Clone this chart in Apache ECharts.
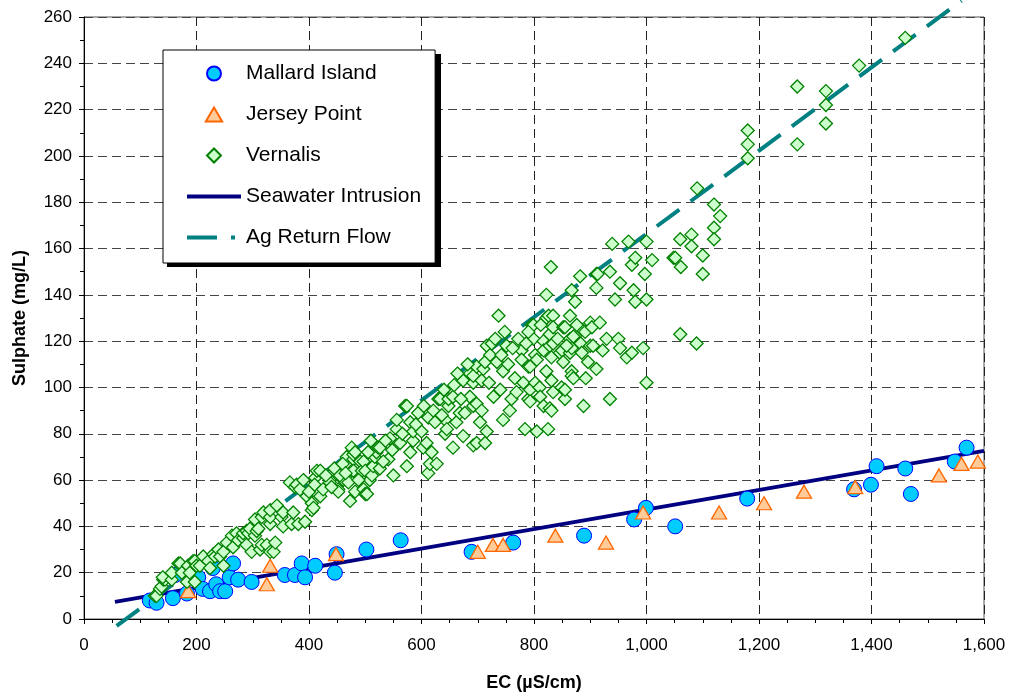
<!DOCTYPE html>
<html>
<head>
<meta charset="utf-8">
<script src="https://cdn.jsdelivr.net/npm/echarts@6/dist/echarts.min.js"></script>
<style>
html,body{margin:0;padding:0;background:#fff;}
#chart{width:1011px;height:696px;}
</style>
</head>
<body>
<div id="chart"></div>
<script>
// ---- Data (EC µS/cm, Sulphate mg/L) ----
const mallardIsland = [
  [117,8],[129,7],[158,9],[162,19],[183,11],[203,18],[211,13],[224,12],[229,22],[235,15],
  [242,12],[251,12],[259,18],[265,24],[274,17],[298,16],[357,19],[375,19],[387,24],[393,18],
  [411,23],[446,20],[449,28],[502,30],[563,34],[689,29],[763,33],[889,36],[978,43],[999,48],
  [1051,40],[1179,52],[1369,56],[1399,58],[1409,66],[1460,65],[1470,54],[1548,68],[1569,74]
];
const jerseyPoint = [
  [185,12],[325,15],[331,23],[448,28],[700,29],[727,32],[745,32],[838,36],[928,33],[994,46],
  [1129,46],[1209,50],[1280,55],[1371,57],[1520,62],[1560,67],[1589,68]
];
const vernalis = [
  [126,10],[129,10],[135,13],[138,14],[141,17],[144,17],[140,18],[156,17],[156,20],[168,24],
  [171,24],[174,20],[183,16],[185,23],[188,20],[194,25],[197,25],[197,16],[200,23],[206,23],
  [212,27],[221,25],[224,22],[230,28],[233,27],[239,30],[242,27],[248,23],[248,29],[254,33],
  [263,36],[265,31],[271,37],[274,34],[283,35],[283,37],[289,32],[289,38],[292,37],[295,39],
  [298,29],[304,36],[304,43],[307,38],[310,39],[313,30],[316,44],[316,32],[319,46],[325,32],
  [331,41],[331,29],[331,44],[331,47],[337,29],[340,33],[343,49],[351,44],[354,46],[354,40],
  [366,59],[369,41],[372,46],[375,57],[378,58],[381,41],[384,56],[393,42],[396,53],[405,50],
  [405,47],[408,48],[411,61],[414,64],[420,53],[420,64],[437,60],[437,59],[452,56],[452,55],
  [461,60],[467,70],[470,59],[473,51],[476,64],[476,74],[479,69],[479,71],[479,64],[482,72],
  [482,55],[491,68],[494,64],[497,56],[497,68],[500,54],[500,64],[503,54],[508,60],[512,62],
  [514,66],[517,70],[520,72],[523,74],[526,74],[526,65],[541,69],[544,78],[550,62],[556,82],
  [556,86],[562,76],[571,92],[574,92],[574,66],[580,72],[580,85],[585,77],[585,81],[594,89],
  [600,81],[603,74],[609,76],[612,87],[612,63],[615,67],[618,72],[621,90],[627,67],[630,95],
  [633,95],[642,80],[642,86],[645,82],[648,92],[648,95],[656,74],[656,96],[662,85],[668,89],
  [674,79],[674,103],[677,89],[686,96],[686,106],[692,75],[692,102],[692,92],[692,105],[698,93],
  [698,109],[698,76],[704,85],[707,90],[707,103],[710,108],[713,111],[713,76],[716,81],[716,118],
  [722,114],[725,119],[728,96],[734,111],[737,131],[740,99],[745,107],[745,86],[751,118],[754,110],
  [757,90],[760,95],[766,104],[769,98],[778,116],[778,112],[781,102],[784,82],[790,95],[790,109],
  [793,109],[793,99],[793,94],[796,127],[799,121],[799,127],[802,114],[802,102],[805,81],[805,112],
  [810,100],[811,96],[817,120],[817,92],[817,116],[822,130],[822,107],[822,140],[825,82],[826,131],
  [828,118],[828,123],[828,91],[830,152],[831,113],[831,103],[831,90],[834,131],[834,126],[834,119],
  [834,98],[846,115],[849,100],[850,116],[852,126],[852,111],[855,126],[855,95],[855,99],[864,121],
  [864,131],[864,115],[867,107],[867,142],[867,117],[867,105],[870,122],[870,104],[873,137],[882,148],
  [883,119],[885,115],[885,125],[888,92],[891,124],[892,104],[900,128],[900,118],[903,126],[905,118],
  [911,149],[911,143],[911,108],[913,149],[917,128],[929,121],[935,150],[935,95],[939,162],[944,138],
  [950,121],[953,145],[953,117],[965,113],[968,163],[974,153],[974,115],[977,142],[980,156],[980,137],
  [994,117],[997,149],[1000,163],[1000,138],[1000,102],[1010,155],[1048,156],[1051,156],[1060,164],[1060,123],
  [1061,152],[1080,166],[1080,161],[1089,119],[1090,186],[1100,157],[1100,149],[1120,179],[1120,169],[1120,164],
  [1131,174],[1180,211],[1180,205],[1180,199],[1268,230],[1268,205],[1319,228],[1319,222],[1319,214],[1378,239],
  [1460,251],
  [390,60],[400,55],[410,58],[425,56],[430,62],[440,57],[445,65],[455,62],[460,67],[465,63],
  [488,60],[505,72],[510,77],[532,68],[536,77],[548,73],[566,80],[590,84],[604,92],[624,85],
  [636,88],[640,99],[658,101],[664,106],[670,95],[682,110],[720,102],[731,121],[748,124],[762,117],
  [772,121],[742,114],[786,119],[790,124],[812,127],[842,121],[858,118],[876,127],[896,111],[922,116]
];
// Trend lines (end points)
const seawaterIntrusion = [[55,7.4],[1600,72.6]];
const agReturnFlow = [[58,-3],[1560,267]];

const xTicks = {min:0, max:1600, interval:200};
const yTicks = {min:0, max:260, interval:20};

const FONT = '"Liberation Sans", Arial, sans-serif';
const chart = echarts.init(document.getElementById('chart'));

const option = {
  backgroundColor: '#fff',
  animation: false,
  textStyle: {fontFamily: FONT, color: '#000'},
  grid: {left:84, right:27, top:17, bottom:77, show:true, borderColor:'#555', borderWidth:1,
         containLabel:false, outerBoundsMode:'none'},
  graphic: [
    {type:'rect', left:167, top:54, z:5, silent:true,
     shape:{width:274, height:213}, style:{fill:'#000'}}
  ],
  legend: {
    orient: 'vertical',
    left: 163, top: 50, z: 10,
    padding: [13, 14, 15, 24],
    itemWidth: 54, itemHeight: 14, itemGap: 20,
    backgroundColor: '#fff',
    borderColor: '#000', borderWidth: 1,
    textStyle: {fontFamily: FONT, fontSize: 21, lineHeight: 21, color: '#000'},
    data: [
      {name:'Mallard Island', icon:'circle'},
      {name:'Jersey Point', icon:'path://M7,0L14,12L0,12Z'},
      {name:'Vernalis', icon:'path://M6,0L12,6L6,12L0,6Z'},
      {name:'Seawater Intrusion', icon:'path://M0,0H54V4H0Z', itemStyle:{color:'#000080'}},
      {name:'Ag Return Flow', icon:'path://M0,0H30V4H0ZM44,0H48V4H44ZM54,0H54V4H54Z', itemStyle:{color:'#008080'}}
    ]
  },
  xAxis: {
    type:'value', min:xTicks.min, max:xTicks.max, interval:xTicks.interval,
    name:'EC (µS/cm)', nameLocation:'middle', nameGap:55,
    nameTextStyle:{fontFamily:FONT, fontSize:18, fontWeight:'bold', color:'#000'},
    axisLine:{show:true, onZero:false, lineStyle:{color:'#000', width:1}},
    axisTick:{show:true, length:5, lineStyle:{color:'#000'}},
    minorTick:{show:true, splitNumber:4, length:4, lineStyle:{color:'#000'}},
    axisLabel:{fontFamily:FONT, fontSize:17, color:'#000', margin:18,
      formatter: v => v.toLocaleString('en-US')},
    splitLine:{show:true, lineStyle:{color:'#222', type:[9,5], width:1}}
  },
  yAxis: {
    type:'value', min:yTicks.min, max:yTicks.max, interval:yTicks.interval,
    name:'Sulphate (mg/L)', nameLocation:'middle', nameGap:55, nameRotate:90,
    nameTextStyle:{fontFamily:FONT, fontSize:18, fontWeight:'bold', color:'#000'},
    axisLine:{show:true, onZero:false, lineStyle:{color:'#000', width:1}},
    axisTick:{show:true, length:5, lineStyle:{color:'#000'}},
    minorTick:{show:true, splitNumber:2, length:4, lineStyle:{color:'#000'}},
    axisLabel:{fontFamily:FONT, fontSize:17, color:'#000', margin:12},
    splitLine:{show:true, lineStyle:{color:'#444', type:[9,5], width:1}}
  },
  series: [
    {
      name:'Seawater Intrusion', type:'line', data:seawaterIntrusion, symbol:'none',
      clip:false, z:1,
      lineStyle:{color:'#000080', width:4}, itemStyle:{color:'#000080'}
    },
    {
      name:'Ag Return Flow', type:'line', data:agReturnFlow, symbol:'none',
      clip:false, z:1,
      lineStyle:{color:'#008080', width:4, type:[28,14]}, itemStyle:{color:'#008080'}
    },
    {
      name:'Mallard Island', type:'scatter', data:mallardIsland, symbol:'circle', symbolSize:15, z:2,
      itemStyle:{color:'#00CCFF', borderColor:'#0000FF', borderWidth:1, opacity:1}
    },
    {
      name:'Jersey Point', type:'scatter', data:jerseyPoint, symbol:'triangle', symbolSize:[15,13], z:3,
      itemStyle:{color:'#FFCC99', borderColor:'#FF6600', borderWidth:1.3, opacity:1}
    },
    {
      name:'Vernalis', type:'scatter', data:vernalis, symbol:'diamond', symbolSize:13, z:4,
      itemStyle:{color:'#CCFFCC', borderColor:'#008000', borderWidth:1.3, opacity:1}
    }
  ]
};
chart.setOption(option);
</script>
</body>
</html>
